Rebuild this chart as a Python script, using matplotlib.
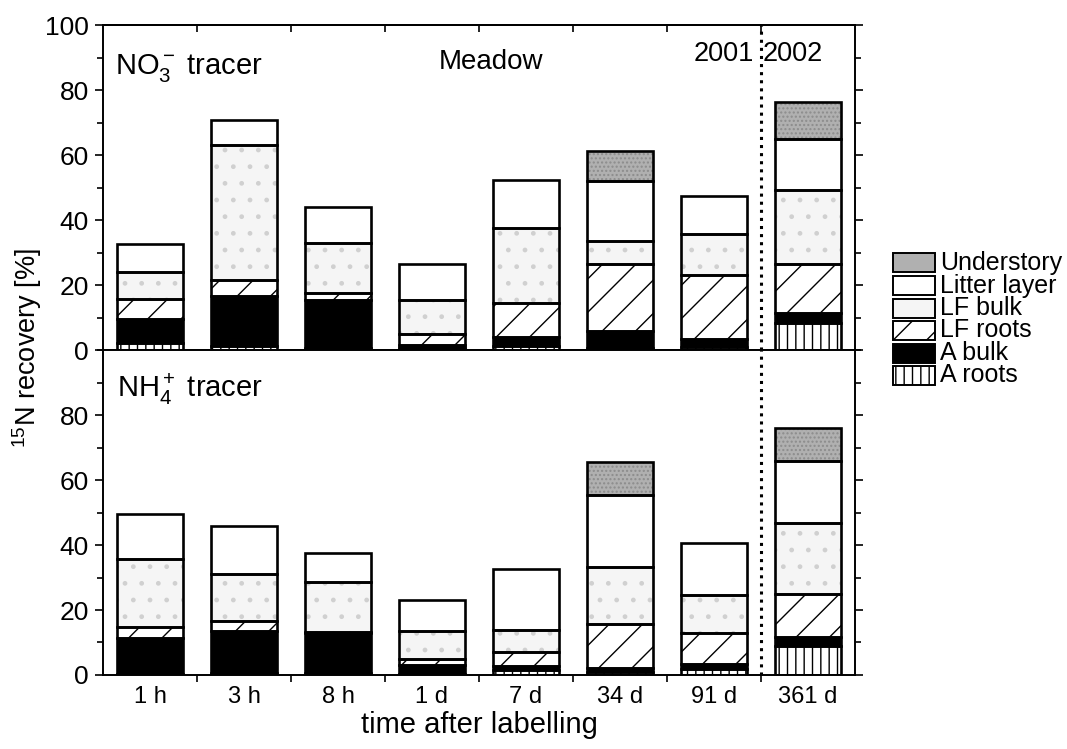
import numpy as np
import matplotlib
matplotlib.use("Agg")
import matplotlib.pyplot as plt
from matplotlib.patches import Rectangle

plt.rcParams["font.family"] = "Liberation Sans"
plt.rcParams["mathtext.fontset"] = "custom"
plt.rcParams["mathtext.rm"] = "Liberation Sans"
plt.rcParams["mathtext.it"] = "Liberation Sans:italic"
plt.rcParams["mathtext.default"] = "regular"
plt.rcParams["hatch.linewidth"] = 1.0

times = ["1 h", "3 h", "8 h", "1 d", "7 d", "34 d", "91 d", "361 d"]
pools = ["A roots", "A bulk", "LF roots", "LF bulk", "Litter layer", "Understory"]

# NO3- tracer, % recovery per pool
no3_a_roots = [2.1, 1.2, 0.7, 0.5, 1.3, 0.5, 1.0, 8.2]
no3_a_bulk = [7.5, 15.3, 14.8, 1.0, 2.6, 5.2, 2.3, 3.1]
no3_lf_roots = [6.2, 4.9, 2.1, 3.4, 10.5, 20.7, 19.8, 15.2]
no3_lf_bulk = [8.3, 41.8, 15.2, 10.6, 23.2, 7.0, 12.6, 22.7]
no3_litter = [8.4, 7.5, 11.1, 11.1, 14.6, 18.6, 11.6, 15.6]
no3_understory = [0, 0, 0, 0, 0, 9.2, 0, 11.5]

# NH4+ tracer
nh4_a_roots = [0.3, 0.7, 0.7, 0.3, 1.6, 1.0, 1.8, 9.0]
nh4_a_bulk = [11.1, 12.9, 12.2, 2.8, 1.3, 1.1, 1.6, 2.8]
nh4_lf_roots = [3.3, 3.1, 0.3, 1.9, 4.1, 13.7, 9.5, 13.0]
nh4_lf_bulk = [20.9, 14.5, 15.4, 8.4, 6.9, 17.5, 11.7, 22.0]
nh4_litter = [13.9, 14.5, 8.9, 9.8, 18.8, 22.2, 16.1, 19.2]
nh4_understory = [0, 0, 0, 0, 0, 9.9, 0, 10.0]

# (face, hatch, hatch colour) for each pool, bottom to top
styles = {
    "A roots": ("white", "||", "black"),
    "A bulk": ("black", None, "black"),
    "LF roots": ("white", "/", "black"),
    "LF bulk": ("#f5f5f5", ".", "#d0d0d0"),
    "Litter layer": ("white", None, "black"),
    "Understory": ("#b0b0b0", "....", "#8c8c8c"),
}

x = np.arange(len(times))
width = 0.7


def stack(ax, series):
    bottom = np.zeros(len(times))
    for name, vals in zip(pools, series):
        vals = np.array(vals, dtype=float)
        face, hatch, hcol = styles[name]
        # fill + hatch first, then a black outline on top
        ax.bar(x, vals, width, bottom=bottom, color=face, hatch=hatch,
               edgecolor=hcol, linewidth=0, zorder=2)
        ax.bar(x[vals > 0], vals[vals > 0], width, bottom=bottom[vals > 0],
               fill=False, edgecolor="black", linewidth=1.9, zorder=3)
        bottom += vals


def style_axis(ax, ylabels):
    ax.set_xlim(-0.5, 7.5)
    ax.set_ylim(0, 100)
    ax.set_xticks(x)
    ax.set_xticks(np.arange(0.5, 7, 1), minor=True)
    ax.tick_params(axis="x", which="major", length=0, labelsize=17, pad=8)
    ax.tick_params(axis="x", which="minor", length=5, width=1.2,
                   direction="out")
    ax.set_yticks(ylabels)
    ax.set_yticks(np.arange(0, 101, 10), minor=True)
    ax.tick_params(axis="y", which="both", direction="out", right=True,
                   width=1.2, labelsize=19, pad=4)
    ax.tick_params(axis="y", which="major", length=6)
    ax.tick_params(axis="y", which="minor", length=4)
    for s in ax.spines.values():
        s.set_linewidth(1.4)
    ax.axvline(6.5, color="black", ls=":", lw=2.2, zorder=4)


fig = plt.figure(figsize=(10.67, 7.49), dpi=100)
ax_top = fig.add_axes([0.0965, 0.5327, 0.7048, 0.4339])
ax_bot = fig.add_axes([0.0965, 0.0988, 0.7048, 0.4339])

stack(ax_top, [no3_a_roots, no3_a_bulk, no3_lf_roots, no3_lf_bulk,
               no3_litter, no3_understory])
stack(ax_bot, [nh4_a_roots, nh4_a_bulk, nh4_lf_roots, nh4_lf_bulk,
               nh4_litter, nh4_understory])

style_axis(ax_top, [0, 20, 40, 60, 80, 100])
style_axis(ax_bot, [0, 20, 40, 60, 80])
ax_top.set_xticklabels([])
ax_bot.set_xticklabels(times)

# small inward ticks along the top edge
top_sec = ax_top.secondary_xaxis("top")
top_sec.set_xticks(np.arange(0.5, 7, 1))
top_sec.set_xticklabels([])
top_sec.tick_params(direction="in", length=5, width=1.2)
top_sec.spines["top"].set_linewidth(1.4)

ax_top.text(-0.37, 85, "NO$_3^-$ tracer", fontsize=21, va="baseline")
ax_top.text(3.63, 86.5, "Meadow", fontsize=20, va="baseline", ha="center")
ax_top.text(6.43, 89, "2001", fontsize=19.5, va="baseline", ha="right")
ax_top.text(6.52, 89, "2002", fontsize=19.5, va="baseline", ha="left")
ax_bot.text(-0.35, 85.5, "NH$_4^+$ tracer", fontsize=21, va="baseline")

ax_bot.set_xlabel("time after labelling", fontsize=21, labelpad=2)
fig.text(0.025, 0.535, "$^{15}$N recovery [%]", rotation=90, fontsize=19.5,
         ha="center", va="center")

# legend drawn by hand so the rows sit tight like the original key
W, H = 1067.0, 749.0
row_y = [263, 285.5, 308, 330.5, 353, 375.5]
for yc, name in zip(row_y, pools[::-1]):
    face, hatch, hcol = styles[name]
    if name in ("LF bulk", "Understory"):
        hatch = None
    fig.add_artist(Rectangle((893 / W, 1 - (yc + 9.5) / H), 42 / W, 19 / H,
                             transform=fig.transFigure, facecolor=face,
                             hatch=hatch, edgecolor="black", linewidth=1.4))
    fig.text(940 / W, 1 - yc / H, name, fontsize=18, va="center", ha="left")

fig.savefig("out.png", dpi=100)
